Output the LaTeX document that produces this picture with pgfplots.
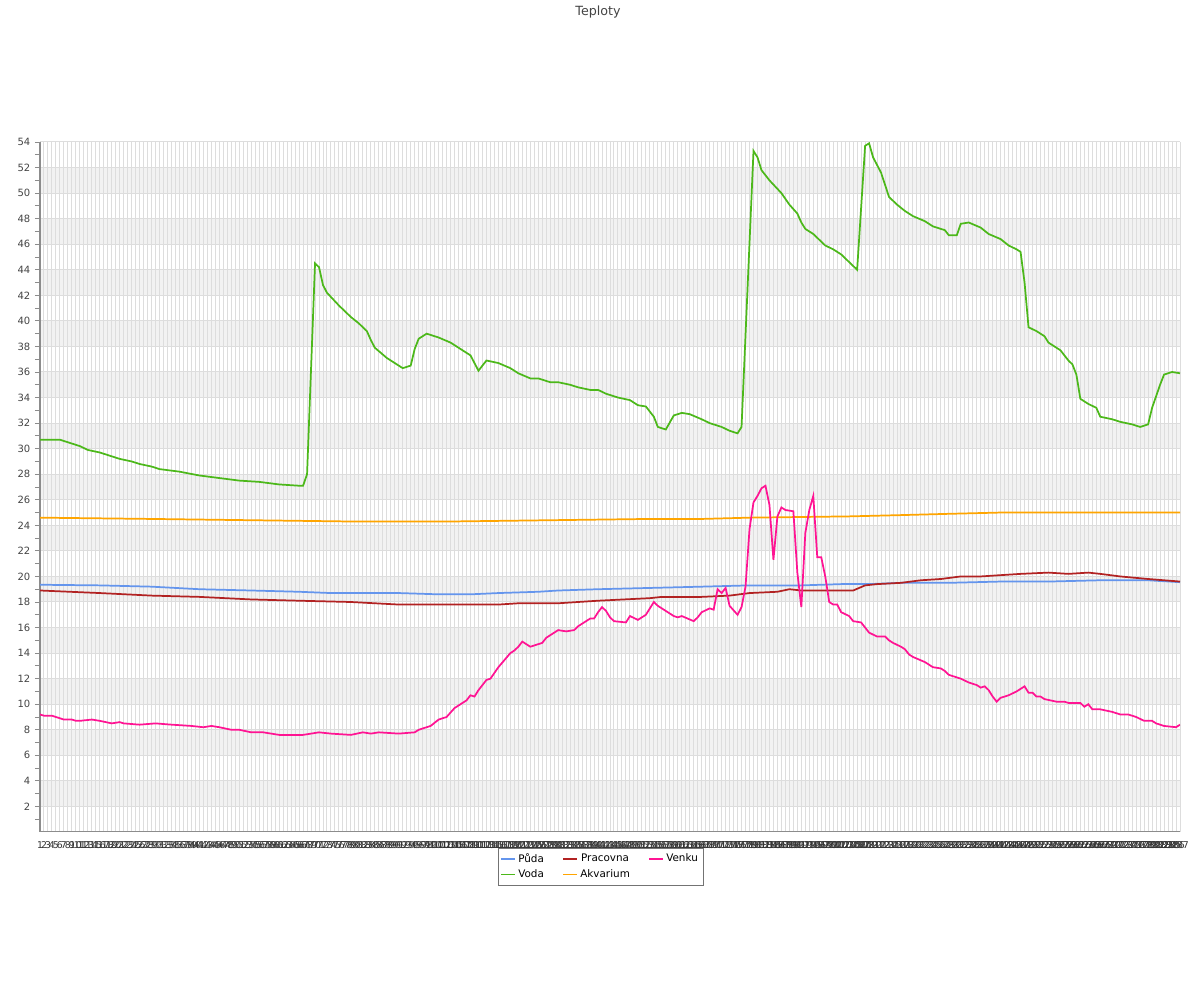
\documentclass[border=0pt]{standalone}
\usepackage{pgfplots}
\pgfplotsset{compat=1.18}
\usepackage{fontspec}
\setmainfont{DejaVu Sans}
\definecolor{puda}{HTML}{6495ED}
\definecolor{voda}{HTML}{4CB81A}
\definecolor{pracovna}{HTML}{B22222}
\definecolor{akvarium}{HTML}{FFA500}
\definecolor{venku}{HTML}{FF1493}
\definecolor{gridc}{HTML}{DDDDDD}
\definecolor{bandc}{HTML}{F2F2F2}
\definecolor{txt}{HTML}{444444}
\begin{document}
\begin{tikzpicture}
\useasboundingbox (0,0) rectangle (900pt,750pt);
\node[font=\fontsize{9.5}{11}\selectfont, text=txt] at (448.5pt,741pt) {Teploty};
% background bands
\begin{axis}[
  at={(30pt,126pt)}, anchor=south west,
  scale only axis, width=855pt, height=517.5pt,
  xmin=1, xmax=287, ymin=0, ymax=54,
  hide axis,
]
\pgfplotsinvokeforeach{0,...,12}{
  \fill[bandc] (axis cs:1,{4*#1+2}) rectangle (axis cs:287,{4*#1+4});
}
\end{axis}
\begin{axis}[
  at={(30pt,126pt)}, anchor=south west,
  scale only axis, width=855pt, height=517.5pt,
  xmin=1, xmax=287, ymin=0, ymax=54,
  axis lines=left,
  axis line style={-, draw=black!45, line width=0.75pt},
  xtick={1,...,287},
  ytick={2,4,...,54},
  minor ytick={1,3,...,53},
  tick align=outside,
  major tick length=3.75pt, minor tick length=3.75pt,
  x tick style={draw=none},
  y tick style={draw=black!45, line width=0.6pt},
  xmajorgrids, ymajorgrids,
  major grid style={draw=gridc, line width=0.75pt},
  tick label style={font=\fontsize{7.5}{9}\selectfont, text=txt},
  xticklabel style={font=\fontsize{7}{8}\selectfont, text=black!80},
  /pgf/number format/assume math mode=true,
  legend style={at={(0.4917,-0.023)}, anchor=north, draw=black!55,
    font=\fontsize{7.8}{9}\selectfont, legend columns=3,
    /tikz/every even column/.append style={column sep=12pt},
    inner sep=2pt},
  legend image code/.code={\draw[#1, line width=1.3pt] (0pt,0pt) -- (10pt,0pt);},
]
\addlegendimage{puda}\addlegendentry{Půda}
\addlegendimage{pracovna}\addlegendentry{Pracovna}
\addlegendimage{venku}\addlegendentry{Venku}
\addlegendimage{voda}\addlegendentry{Voda}
\addlegendimage{akvarium}\addlegendentry{Akvarium}

% Puda
\addplot[puda, line width=1.3pt, forget plot] coordinates {
(1,19.35) (16,19.3) (29,19.2) (41,19.0) (54,18.9) (66,18.8) (74,18.7) (91,18.7)
(101,18.6) (109,18.6) (116,18.7) (126,18.8) (131,18.9) (141,19.0) (154,19.1)
(167,19.2) (179,19.3) (192,19.3) (202,19.4) (209,19.4) (217,19.5) (229,19.5)
(242,19.6) (254,19.6) (267,19.7) (279,19.7) (287,19.55)
};
% Voda
\addplot[voda, line width=1.3pt, forget plot] coordinates {
(1,30.7) (6,30.7) (8,30.5) (11,30.2) (13,29.9) (16,29.7) (19,29.4) (21,29.2)
(24,29.0) (26,28.8) (29,28.6) (31,28.4) (36,28.2) (41,27.9) (46,27.7) (51,27.5)
(56,27.4) (61,27.2) (66,27.1) (67,27.1) (68,28.0) (70,44.5) (71,44.2) (72,42.8)
(73,42.2) (76,41.2) (79,40.3) (81,39.8) (83,39.2) (84,38.5) (85,37.9) (88,37.1)
(90,36.7) (92,36.3) (94,36.5) (95,37.8) (96,38.6) (98,39.0) (101,38.7) (104,38.3)
(106,37.9) (108,37.5) (109,37.3) (111,36.1) (113,36.9) (116,36.7) (119,36.3)
(121,35.9) (124,35.5) (126,35.5) (129,35.2) (131,35.2) (134,35.0) (136,34.8)
(139,34.6) (141,34.6) (143,34.3) (146,34.0) (149,33.8) (151,33.4) (153,33.3)
(155,32.5) (156,31.7) (158,31.5) (160,32.6) (162,32.8) (164,32.7) (167,32.3)
(169,32.0) (172,31.7) (174,31.4) (176,31.2) (177,31.7) (180,53.3) (181,52.8)
(182,51.8) (184,51.0) (187,50.0) (189,49.1) (191,48.4) (192,47.7) (193,47.2)
(195,46.8) (198,45.9) (200,45.6) (202,45.2) (204,44.6) (205,44.3) (206,44.0)
(208,53.7) (209,53.9) (210,52.8) (212,51.6) (214,49.7) (216,49.1) (218,48.6)
(220,48.2) (223,47.8) (225,47.4) (228,47.1) (229,46.7) (231,46.7) (232,47.6)
(234,47.7) (237,47.3) (239,46.8) (242,46.4) (244,45.9) (246,45.6) (247,45.4)
(248,43.0) (249,39.5) (251,39.2) (253,38.8) (254,38.3) (257,37.7) (259,36.9)
(260,36.6) (261,35.8) (262,33.9) (264,33.5) (266,33.2) (267,32.5) (270,32.3)
(272,32.1) (275,31.9) (277,31.7) (279,31.9) (280,33.2) (282,35.0) (283,35.8)
(285,36.0) (287,35.9)
};
% Pracovna
\addplot[pracovna, line width=1.3pt, forget plot] coordinates {
(1,18.9) (16,18.7) (29,18.5) (41,18.4) (54,18.2) (66,18.1) (79,18.0) (91,17.8)
(104,17.8) (116,17.8) (121,17.9) (131,17.9) (141,18.1) (154,18.3) (157,18.4)
(167,18.4) (174,18.5) (179,18.7) (186,18.8) (189,19.0) (192,18.9) (202,18.9)
(205,18.9) (208,19.3) (211,19.4) (217,19.5) (222,19.7) (227,19.8) (232,20.0)
(237,20.0) (242,20.1) (247,20.2) (254,20.3) (259,20.2) (264,20.3) (267,20.2)
(272,20.0) (279,19.8) (287,19.6)
};
% Akvarium
\addplot[akvarium, line width=1.3pt, forget plot] coordinates {
(1,24.6) (29,24.5) (54,24.4) (79,24.3) (104,24.3) (129,24.4) (154,24.5)
(167,24.5) (179,24.6) (204,24.7) (217,24.8) (229,24.9) (242,25.0) (287,25.0)
};
% Venku
\addplot[venku, line width=1.3pt, forget plot] coordinates {
(1,9.2) (2,9.1) (4,9.1) (5,9.0) (6,8.9) (7,8.8) (9,8.8) (10,8.7) (11,8.7)
(14,8.8) (16,8.7) (19,8.5) (21,8.6) (22,8.5) (26,8.4) (30,8.5) (34,8.4)
(39,8.3) (42,8.2) (44,8.3) (46,8.2) (49,8.0) (51,8.0) (54,7.8) (57,7.8)
(61,7.6) (67,7.6) (69,7.7) (71,7.8) (74,7.7) (79,7.6) (82,7.8) (84,7.7)
(86,7.8) (91,7.7) (95,7.8) (96,8.0) (99,8.3) (101,8.8) (103,9.0) (105,9.7)
(108,10.3) (109,10.7) (110,10.6) (111,11.1) (113,11.9) (114,12.0) (116,12.9)
(119,14.0) (120,14.2) (121,14.5) (122,14.9) (123,14.7) (124,14.5) (127,14.8)
(128,15.2) (130,15.6) (131,15.8) (133,15.7) (135,15.8) (136,16.1) (139,16.7)
(140,16.7) (141,17.2) (142,17.6) (143,17.3) (144,16.8) (145,16.5) (148,16.4)
(149,16.9) (151,16.6) (153,17.0) (155,18.0) (156,17.7) (158,17.3) (160,16.9)
(161,16.8) (162,16.9) (165,16.5) (166,16.8) (167,17.2) (169,17.5) (170,17.4)
(171,19.0) (172,18.7) (173,19.1) (174,17.7) (176,17.0) (177,17.6) (178,19.2)
(179,23.7) (180,25.8) (181,26.3) (182,26.9) (183,27.1) (184,25.6) (185,21.3)
(186,24.7) (187,25.4) (188,25.2) (190,25.1) (191,20.3) (192,17.6) (193,23.4)
(194,25.2) (195,26.3) (196,21.5) (197,21.5) (198,20.0) (199,18.0) (200,17.8)
(201,17.8) (202,17.2) (204,16.9) (205,16.5) (207,16.4) (208,16.0) (209,15.6)
(211,15.3) (213,15.3) (214,15.0) (215,14.8) (217,14.5) (218,14.3) (219,13.9)
(220,13.7) (223,13.3) (225,12.9) (227,12.8) (228,12.6) (229,12.3) (232,12.0)
(234,11.7) (236,11.5) (237,11.3) (238,11.4) (239,11.1) (240,10.6) (241,10.2)
(242,10.5) (244,10.7) (246,11.0) (248,11.4) (249,10.9) (250,10.9) (251,10.6)
(252,10.6) (253,10.4) (256,10.2) (258,10.2) (259,10.1) (262,10.1) (263,9.8)
(264,10.0) (265,9.6) (267,9.6) (270,9.4) (272,9.2) (274,9.2) (276,9.0)
(278,8.7) (280,8.7) (281,8.5) (283,8.3) (286,8.2) (287,8.4)
};
\end{axis}
\end{tikzpicture}
\end{document}
